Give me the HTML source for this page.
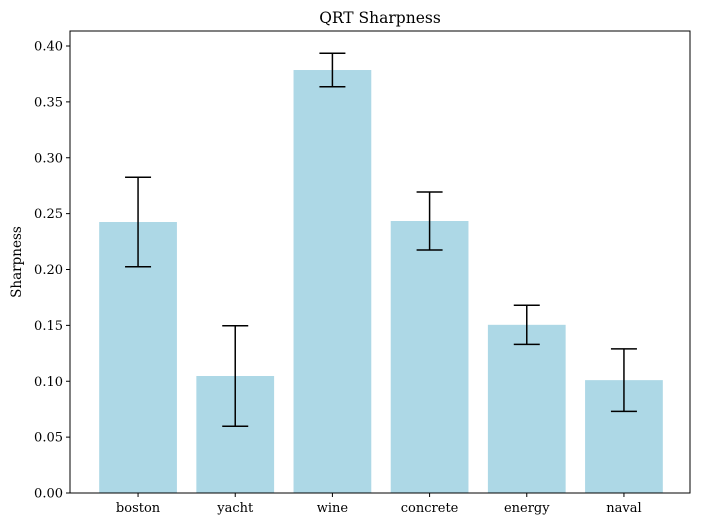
<!DOCTYPE html>
<html><head><meta charset="utf-8"><style>
body{margin:0;background:#fff;}
svg{display:block;font-family:"DejaVu Serif","Liberation Serif",serif;}
</style></head><body>
<svg id="chart" width="701" height="527" xmlns="http://www.w3.org/2000/svg"></svg>
<script>
const categories=["boston","yacht","wine","concrete","energy","naval"];
const values=[0.2425,0.1047,0.3785,0.2434,0.1505,0.101];
const errors=[0.040,0.045,0.015,0.026,0.0175,0.028];
const yTicks=[0,0.05,0.10,0.15,0.20,0.25,0.30,0.35,0.40];
const yTickLabels=["0.00","0.05","0.10","0.15","0.20","0.25","0.30","0.35","0.40"];
const L=70,R=690,T=31,B=493;
const y0=493,y40=46;
function ys(v){return y0-(y0-y40)*v/0.4;}
const xmin=-0.69,xmax=categories.length-1+0.69;
function xs(i){return L+1+(i-xmin)/(xmax-xmin)*(R-L);}
const bw=0.8*(R-L)/(xmax-xmin);
const NS="http://www.w3.org/2000/svg";
const svg=document.getElementById('chart');
function mk(tag,attrs,parent){const e=document.createElementNS(NS,tag);for(const k in attrs)e.setAttribute(k,attrs[k]);(parent||svg).appendChild(e);return e;}
categories.forEach((c,i)=>{
  const r=mk('rect',{x:xs(i)-bw/2,y:ys(values[i]),width:bw,height:ys(0)-ys(values[i]),fill:'#add8e6'});
  
  
});
categories.forEach((c,i)=>{
  const g=mk('g',{stroke:'#000','stroke-width':1.5});
  
  
  const x=xs(i),a=ys(values[i]+errors[i]),b=ys(values[i]-errors[i]);
  mk('line',{x1:x,x2:x,y1:a,y2:b},g);
  mk('line',{x1:x-13,x2:x+13,y1:a,y2:a},g);
  mk('line',{x1:x-13,x2:x+13,y1:b,y2:b},g);
});
const frame=mk('rect',{x:L,y:T,width:R-L,height:B-T,fill:'none',stroke:'#000','stroke-width':1});


yTicks.forEach((v,i)=>{
  const y=ys(v);
  mk('line',{x1:L-4,x2:L,y1:y,y2:y,stroke:'#000'});
  const t=mk('text',{x:L-7,y:y+4.5,'text-anchor':'end','font-size':13});
  t.textContent=yTickLabels[i];
  
  
});
categories.forEach((c,i)=>{
  const x=xs(i);
  mk('line',{x1:x,x2:x,y1:B,y2:B+4,stroke:'#000'});
  const t=mk('text',{x:x,y:B+19,'text-anchor':'middle','font-size':13});
  t.textContent=c;
  
  
});
const title=mk('text',{x:(L+R)/2,y:23,'text-anchor':'middle','font-size':15.5});
title.textContent='QRT Sharpness';


const yl=mk('text',{x:21,y:(T+B)/2,'text-anchor':'middle','font-size':13.5,transform:'rotate(-90 21 '+((T+B)/2)+')'});
yl.textContent='Sharpness';


</script>
</body></html>
